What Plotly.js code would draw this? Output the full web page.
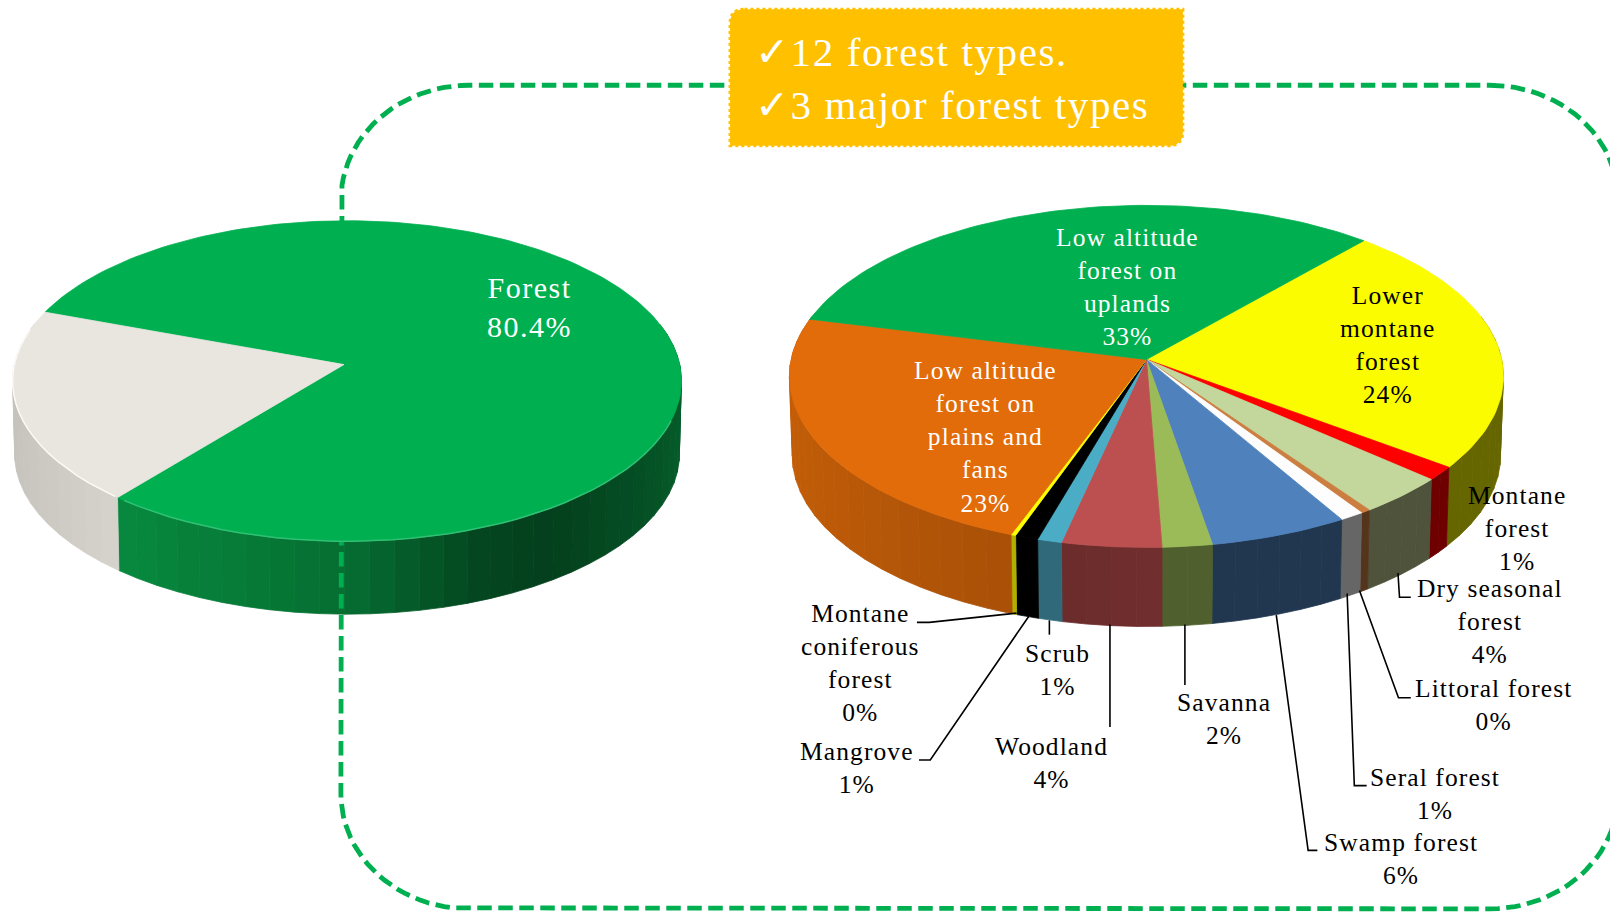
<!DOCTYPE html>
<html><head><meta charset="utf-8">
<script src="https://cdn.plot.ly/plotly-3.0.1.min.js"></script>
<style>html,body{margin:0;padding:0;background:#fff}
.annotation-text{letter-spacing:1.1px}
.annotation[data-index="13"] .annotation-text{letter-spacing:1.5px}
.annotation[data-index="14"] .annotation-text{letter-spacing:1.6px}</style>
</head><body><div id="chart" style="width:1610px;height:914px"></div>
<script>
// ---- data ----
const coverNames = ['Forest', 'Non-forest'];
const coverValues = [80.4, 19.6];
const typeNames = ['Lower montane forest','Montane forest','Dry seasonal forest','Littoral forest','Seral forest','Swamp forest','Savanna','Woodland','Scrub','Mangrove','Montane coniferous forest','Low altitude forest on plains and fans','Low altitude forest on uplands'];
const typeValues = [23.8, 1.3, 3.7, 0.4, 1.0, 5.7, 2.05, 4.1, 1.0, 0.95, 0.2, 23.3, 32.5];
const typeWrapped = ['Lower<br>montane<br>forest','Montane<br>forest','Dry seasonal<br>forest','Littoral forest','Seral forest','Swamp forest','Savanna','Woodland','Scrub','Mangrove','Montane<br>coniferous<br>forest','Low altitude<br>forest on<br>plains and<br>fans','Low altitude<br>forest on<br>uplands'];
const boxLines = ['✓12 forest types.', '✓3 major forest types'];

// ---- styles and layout ----
const coverTop = ['#00AF50', '#E9E6DF'];
const coverSide = ['#07803A', '#C6C3BD'];
const typeTop = ['#FCFC00','#FF0000','#C3D69B','#CB7E40','#FDFDFD','#4F81BD','#9BBB59','#BC4F4F','#4BACC6','#000000','#FFFF00','#E26B0A','#00B050'];
const typeSide = ['#666600','#6E0000','#4F533B','#54341A','#666666','#21374F','#4F5F2D','#702E2E','#336F80','#000000','#BDBD00','#B85808','#006030'];
const leftPie = {cx:338,apexX:335,c0:355,A:154.4,k:.1026,B:324,d:71,narrow:.006,start:290,values:coverValues,top:coverTop,side:coverSide,
  shade:[[-1,1.0],[-.65,1.08],[0,.86],[.35,.55],[.55,.5],[.8,.6],[1,.72]]};
const rightPie = {cx:1116.5,apexX:1116.5,c0:350,A:164.9,k:.099,B:346,d:77,narrow:.008,start:41.1,values:typeValues,top:typeTop,side:typeSide,
  shade:[[-1,1.06],[-.4,.92],[0,1],[.5,1],[1,1]]};
const typeLabelPos = [[1352,336,'#000'],[1477,514.5,'#000'],[1451,605.5,'#000'],[1455,686.5,'#000'],[1398,773,'#000'],[1364,836.5,'#000'],[1192,700,'#000'],[1024,742.5,'#000'],[1030,652,'#000'],[835,747.5,'#000'],[838,645.5,'#000'],[960,426,'#fff'],[1098,279.5,'#fff']];
const leaders = [
  [[893,606],[905,606],[990,597]],
  [[895,740],[906,740],[1002,600]],
  [[1022,604],[1022,618]],
  [[1081,608],[1081,708]],
  [[1154,608],[1154,667]],
  [[1243,599],[1274,828],[1283,828]],
  [[1312,578],[1319,765],[1331,765]],
  [[1324,575],[1362,679.5],[1374,679.5]],
  [[1361.5,558],[1363,581.5],[1374,581.5]]
];
const frame = {x0:332,x1:1576,y0:83,y1:885,rx:125,ry:112};

function proj(p, deg, level) {
  const t = deg*Math.PI/180, u = Math.sin(t), v = Math.cos(t), w = 1+p.k*v, s = 1-p.narrow*level;
  return [p.cx+p.B*s*u/w, p.c0-p.A*v/w+p.d*level];
}
function hex(c){return [1,3,5].map(i=>parseInt(c.substr(i,2),16));}
function shadeColor(c,m){return 'rgb('+hex(c).map(n=>Math.min(255,Math.round(n*m))).join(',')+')';}
function shadeAt(p,u){
  const s=p.shade;
  for(let i=1;i<s.length;i++) if(u<=s[i][0]){const f=(u-s[i-1][0])/(s[i][0]-s[i-1][0]);return s[i-1][1]+f*(s[i][1]-s[i-1][1]);}
  return s[s.length-1][1];
}
function poly(xy,color){
  return {type:'scatter',mode:'lines',x:xy.map(q=>q[0]),y:xy.map(q=>q[1]),fill:'toself',fillcolor:color,
    line:{color:color,width:.8},hoverinfo:'skip',showlegend:false};
}
function sliceAngles(p){
  const tot=p.values.reduce((a,b)=>a+b,0); let a=p.start;
  return p.values.map(v=>{const s=a; a+=v/tot*360; return [s,a];});
}
function wallTraces(p){
  const out=[];
  sliceAngles(p).forEach(([s,e],i)=>{
    // walls face the viewer only on the near half of the disc
    [[s,e],[s-360,e-360],[s+360,e+360]].forEach(([a,b])=>{
      const lo=Math.max(a,75), hi=Math.min(b,285);
      if(hi<=lo) return;
      const n=Math.max(1,Math.ceil((hi-lo)/4));
      for(let j=0;j<n;j++){
        const t0=lo+(hi-lo)*j/n,t1=lo+(hi-lo)*(j+1)/n,tm=(t0+t1)/2;
        const c=shadeColor(p.side[i],shadeAt(p,Math.sin(tm*Math.PI/180)));
        out.push(poly([proj(p,t0,0),proj(p,t1,0),proj(p,t1,1),proj(p,t0,1),proj(p,t0,0)],c));
      }
    });
  });
  return out;
}
function topTraces(p){
  return sliceAngles(p).map(([s,e],i)=>{
    const pts=[[p.apexX,p.c0]];
    const n=Math.max(2,Math.ceil((e-s)/1.5));
    for(let j=0;j<=n;j++) pts.push(proj(p,s+(e-s)*j/n,0));
    pts.push(pts[0]);
    return poly(pts,p.top[i]);
  });
}
function frameTrace(){
  const f=frame,xy=[],N=24;
  const arc=(cx,cy,a0)=>{for(let j=0;j<=N;j++){const t=(a0+90*j/N)*Math.PI/180;xy.push([cx+f.rx*Math.cos(t),cy+f.ry*Math.sin(t)]);}};
  arc(f.x1-f.rx,f.y0+f.ry,-90);
  arc(f.x1-f.rx,f.y1-f.ry,0);
  arc(f.x0+f.rx,f.y1-f.ry,90);
  arc(f.x0+f.rx,f.y0+f.ry,180);
  xy.push(xy[0]);
  return {type:'scatter',mode:'lines',x:xy.map(q=>q[0]),y:xy.map(q=>q[1]),line:{color:'#00B050',width:4.8,dash:'14.5px,6.5px'},hoverinfo:'skip',showlegend:false};
}
function rimTrace(p,a0,a1,color){
  const xy=[];for(let a=a0;a<=a1;a+=3)xy.push(proj(p,a,0));
  return {type:'scatter',mode:'lines',x:xy.map(q=>q[0]),y:xy.map(q=>q[1]),line:{color:color,width:1.5},hoverinfo:'skip',showlegend:false};
}

const traces=[
  ...wallTraces(leftPie), frameTrace(), ...topTraces(leftPie),
  rimTrace(leftPie,110,219,'#2FC073'), rimTrace(leftPie,220,285,'#FBFAF7'),
  ...wallTraces(rightPie), ...topTraces(rightPie),
  ...leaders.map(l=>({type:'scatter',mode:'lines',x:l.map(q=>q[0]),y:l.map(q=>q[1]),line:{color:'#000',width:1.6},hoverinfo:'skip',showlegend:false}))
];
const serif='"Liberation Serif", serif';
const annotations=typeWrapped.map((t,i)=>({x:typeLabelPos[i][0],y:typeLabelPos[i][1],xref:'x',yref:'y',showarrow:false,align:'center',
  text:t+'<br>'+Math.round(typeValues[i])+'%',font:{family:serif,size:25.5,color:typeLabelPos[i][2]}}));
annotations.push({x:516,y:299,xref:'x',yref:'y',showarrow:false,align:'center',text:coverNames[0]+'<br>'+coverValues[0]+'%',font:{family:serif,size:30,color:'#fff'}});
annotations.push({x:733,y:76,xref:'x',yref:'y',xanchor:'left',showarrow:false,align:'left',text:boxLines.join('<br>'),font:{family:serif,size:41,color:'#fff'}});

const layout={width:1610,height:914,margin:{l:0,r:0,t:0,b:0},paper_bgcolor:'#fff',plot_bgcolor:'#fff',showlegend:false,hovermode:false,
  xaxis:{range:[0,1568],visible:false,fixedrange:true},
  yaxis:{range:[890,0],visible:false,fixedrange:true},
  annotations,
  shapes:[{type:'path',xref:'x',yref:'y',path:'M 725,9 L 1152,9 L 1152,128 Q 1152,142 1138,142 L 711,142 L 711,23 Q 711,9 725,9 Z',fillcolor:'#FFC000',line:{color:'#FFC000',width:3,dash:'dot'},layer:'above'}]};
Plotly.newPlot('chart',traces,layout,{displayModeBar:false,staticPlot:true});
</script></body></html>
